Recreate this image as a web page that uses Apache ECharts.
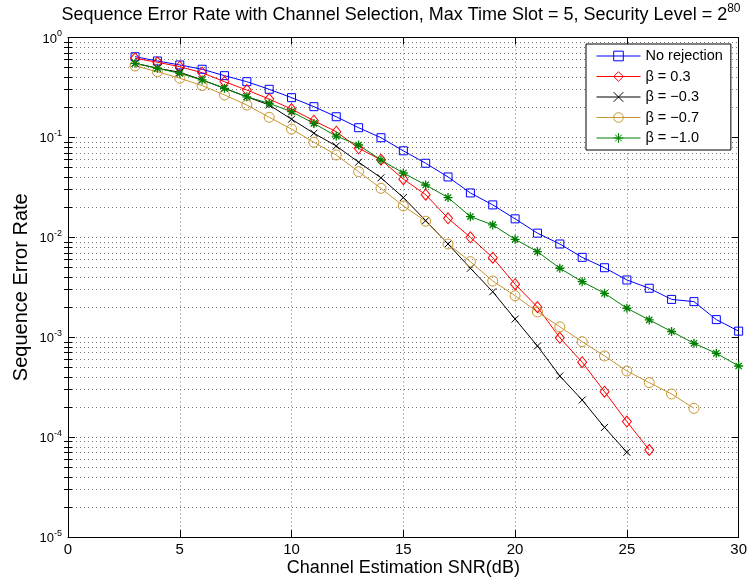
<!DOCTYPE html>
<html>
<head>
<meta charset="utf-8">
<script src="https://cdn.jsdelivr.net/npm/echarts@6/dist/echarts.min.js"></script>
<style>
  html, body { margin: 0; padding: 0; background: #fff; }
  #chart { width: 750px; height: 583px; }
</style>
</head>
<body>
<div id="chart"></div>
<script>
// SNR points (dB)
const snr = [3,4,5,6,7,8,9,10,11,12,13,14,15,16,17,18,19,20,21,22,23,24,25,26,27,28,29,30];

// Sequence error rate for each rejection setting
const noRejection = [0.642,0.582,0.531,0.481,0.415,0.361,0.303,0.25,0.203,0.161,0.125,0.0993,0.0734,0.0551,0.0402,0.0278,0.0211,0.0153,0.011,0.00857,0.0063,0.00496,0.00374,0.00309,0.00239,0.00227,0.0015,0.00115];
const beta03 = [0.619,0.565,0.51,0.444,0.361,0.298,0.242,0.192,0.147,0.114,0.0778,0.0598,0.0382,0.0267,0.0155,0.01,0.00625,0.00339,0.002,0.000987,0.000562,0.000285,0.000143,0.0000743];
const betaM03 = [0.552,0.492,0.449,0.376,0.31,0.255,0.211,0.152,0.11,0.082,0.0565,0.0394,0.025,0.0147,0.00857,0.0049,0.00285,0.00152,0.000817,0.000409,0.000235,0.000125,0.0000705];
const betaM07 = [0.519,0.455,0.391,0.33,0.266,0.211,0.159,0.121,0.0893,0.0667,0.0454,0.0309,0.0206,0.0145,0.00857,0.0057,0.00365,0.0026,0.00179,0.00127,0.000902,0.000649,0.000459,0.000351,0.00027,0.000194];
const betaM10 = [0.552,0.492,0.438,0.376,0.31,0.255,0.219,0.181,0.138,0.103,0.0839,0.0594,0.044,0.0334,0.025,0.0161,0.0133,0.00955,0.00718,0.0049,0.0036,0.00275,0.00195,0.00149,0.00114,0.000869,0.00069,0.000515];

const seriesNames = ['No rejection', 'β = 0.3', 'β = \u22120.3', 'β = \u22120.7', 'β = \u22121.0'];
const xTicks = [0, 5, 10, 15, 20, 25, 30];

// minor log ticks: 2..9 x 10^k between 1e-5 and 1
const minorTicks = [];
for (let k = -5; k < 0; k++) {
  for (let m = 2; m <= 9; m++) minorTicks.push(+(m * Math.pow(10, k)).toPrecision(3));
}

const FONT = '"Liberation Sans", Arial, Helvetica, sans-serif';
const gridDot = { color: '#777', width: 1, type: [1, 3] };

function pair(data) {
  return data.map((v, i) => [snr[i], v]);
}

const sq = 'rect';
const cross = 'path://M0,0L10,10M10,0L0,10';
const star = 'path://M5,0L5,10M0,5L10,5M1.5,1.5L8.5,8.5M8.5,1.5L1.5,8.5';

function line(name, data, color, symbol, size, bw) {
  return {
    name: name,
    type: 'line',
    data: pair(data),
    xAxisIndex: 0,
    yAxisIndex: 0,
    symbol: symbol,
    symbolSize: size,
    showAllSymbol: true,
    lineStyle: { color: color, width: 1 },
    itemStyle: { color: 'rgba(0,0,0,0)', borderColor: color, borderWidth: bw },
    emphasis: { disabled: true },
    animation: false
  };
}

const chart = echarts.init(document.getElementById('chart'));

const logAxisBase = {
  type: 'log',
  logBase: 10,
  min: 1e-5,
  max: 1,
  gridIndex: 0
};

chart.setOption({
  backgroundColor: '#fff',
  animation: false,
  title: {
    text: '{a|Sequence Error Rate with Channel Selection, Max Time Slot = 5, Security Level = 2}{b|80}',
    left: 401,
    top: 0,
    padding: 0,
    textAlign: 'center',
    textStyle: {
      fontFamily: FONT,
      fontWeight: 'normal',
      rich: {
        a: { fontFamily: FONT, fontSize: 18, fontWeight: 'normal', color: '#000', lineHeight: 24, verticalAlign: 'bottom' },
        b: { fontFamily: FONT, fontSize: 12, fontWeight: 'normal', color: '#000', lineHeight: 13, verticalAlign: 'top', padding: [3, 0, 0, 0] }
      }
    }
  },
  grid: { left: 68, right: 11, top: 37.5, bottom: 46, containLabel: false },
  legend: {
    orient: 'vertical',
    left: 586,
    top: 44,
    padding: [4, 8, 4, 10],
    itemWidth: 44,
    itemHeight: 12,
    itemGap: 4.5,
    borderColor: '#000',
    borderWidth: 1,
    backgroundColor: '#fff',
    lineStyle: { width: 1 },
    itemStyle: { borderWidth: 1 },
    textStyle: { fontFamily: FONT, fontSize: 14.5, color: '#000', lineHeight: 16 },
    data: seriesNames
  },
  xAxis: [
    {
      type: 'value',
      min: 0, max: 30, interval: 5,
      position: 'bottom',
      name: 'Channel Estimation SNR(dB)',
      nameLocation: 'middle',
      nameGap: 22,
      nameMoveOverlap: false,
      nameTextStyle: { fontFamily: FONT, fontSize: 18, color: '#000' },
      axisLine: { show: true, onZero: false, lineStyle: { color: '#000', width: 1 } },
      axisTick: { show: true, inside: true, length: 7, lineStyle: { color: '#000' } },
      axisLabel: { fontFamily: FONT, fontSize: 15, color: '#000', margin: 5,
        customValues: xTicks },
      splitLine: { show: true, lineStyle: gridDot }
    },
    {
      type: 'value',
      min: 0, max: 30, interval: 5,
      position: 'top',
      axisLine: { show: true, onZero: false, lineStyle: { color: '#000', width: 1 } },
      axisTick: { show: true, inside: true, length: 7, lineStyle: { color: '#000' } },
      axisLabel: { show: false },
      splitLine: { show: false }
    }
  ],
  yAxis: [
    Object.assign({}, logAxisBase, {
      position: 'left',
      name: 'Sequence Error Rate',
      nameLocation: 'middle',
      nameGap: 37,
      nameMoveOverlap: false,
      nameRotate: 90,
      nameTextStyle: { fontFamily: FONT, fontSize: 20, color: '#000' },
      axisLine: { show: true, onZero: false, lineStyle: { color: '#000', width: 1 } },
      axisTick: { show: true, inside: true, length: 7, lineStyle: { color: '#000' } },
      axisLabel: {
        margin: 6,
        formatter: function (v) {
          const e = Math.round(Math.log10(v));
          return '{b|10}{s|' + e + '}';
        },
        rich: {
          b: { fontFamily: FONT, fontSize: 13, color: '#000', lineHeight: 16, verticalAlign: 'bottom' },
          s: { fontFamily: FONT, fontSize: 9, color: '#000', lineHeight: 9, verticalAlign: 'top' }
        }
      },
      splitLine: { show: true, lineStyle: gridDot }
    }),
    Object.assign({}, logAxisBase, {
      position: 'left',
      axisLine: { show: false },
      axisTick: { show: true, inside: true, length: 4, lineStyle: { color: '#000' }, customValues: minorTicks },
      axisLabel: { show: false },
      splitLine: { show: true, lineStyle: gridDot }
    }),
    Object.assign({}, logAxisBase, {
      position: 'right',
      axisLine: { show: true, onZero: false, lineStyle: { color: '#000', width: 1 } },
      axisTick: { show: true, inside: true, length: 7, lineStyle: { color: '#000' } },
      axisLabel: { show: false },
      splitLine: { show: false }
    }),
    Object.assign({}, logAxisBase, {
      position: 'right',
      axisLine: { show: false },
      axisTick: { show: true, inside: true, length: 4, lineStyle: { color: '#000' }, customValues: minorTicks },
      axisLabel: { show: false },
      splitLine: { show: false }
    })
  ],
  series: [
    line(seriesNames[0], noRejection, '#0000ff', sq, 8, 1),
    line(seriesNames[1], beta03, '#ff0000', 'diamond', [9, 11], 1),
    line(seriesNames[2], betaM03, '#000000', cross, 7, 1),
    line(seriesNames[3], betaM07, '#c8962f', 'circle', 10, 1),
    line(seriesNames[4], betaM10, '#008000', star, 9, 1.3)
  ]
});
</script>
</body>
</html>
